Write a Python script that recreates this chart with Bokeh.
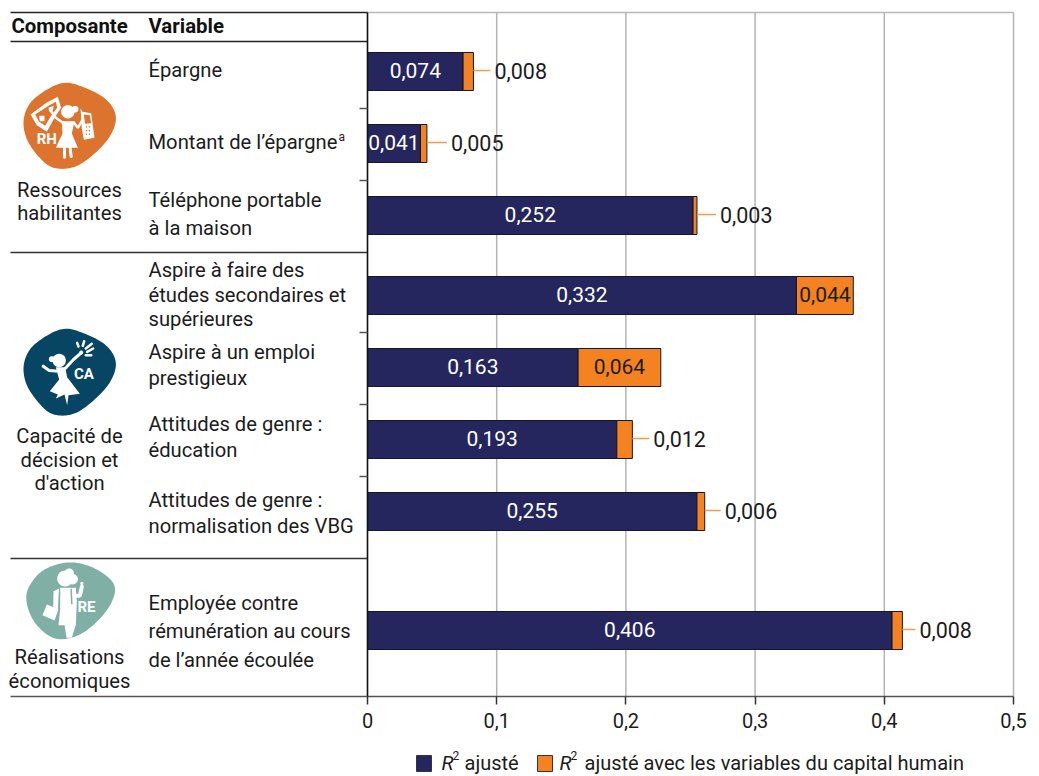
from bokeh.plotting import figure
from bokeh.models import LinearAxis, FixedTicker, Range1d, ColumnDataSource
from bokeh.core.properties import value
from bokeh.embed import file_html
from bokeh.resources import INLINE
import numpy as np

# ---- data ----
variables = ["Épargne", "Montant de l’épargne", "Téléphone portable à la maison",
             "Aspire à faire des études secondaires et supérieures", "Aspire à un emploi prestigieux",
             "Attitudes de genre : éducation", "Attitudes de genre : normalisation des VBG",
             "Employée contre rémunération au cours de l’année écoulée"]
r2_base = [0.074, 0.041, 0.252, 0.332, 0.163, 0.193, 0.255, 0.406]
r2_human = [0.008, 0.005, 0.003, 0.044, 0.064, 0.012, 0.006, 0.008]
x_ticks = [0, 0.1, 0.2, 0.3, 0.4, 0.5]
x_labels = ["0", "0,1", "0,2", "0,3", "0,4", "0,5"]
legend_labels = ["ajusté", "ajusté avec les variables du capital humain"]

# ---- layout (page pixels) ----
W, H = 1039, 776
X0, X1 = 367, 1013
bar_rows = [71, 143, 215, 295, 367, 439, 511, 630]
row_ticks = [108, 180, 332, 404, 476]
leader_px = [17, 20, 19, 0, 0, 17, 16, 13]
FONT_NAME = "Roboto"
FONT = value(FONT_NAME)
INK = "#1c1c1c"
NAVY, ORANGE = "#24265d", "#f58220"
BODY = 20.2
k = (X1 - X0) / 0.5
def dx(px):
    return (np.asarray(px, dtype=float) - X0) / k

p = figure(width=W, height=H, output_backend="svg", toolbar_location=None,
           x_range=Range1d(dx(0), dx(W)), y_range=Range1d(H, 0),
           x_axis_type=None, y_axis_type=None, min_border=0,
           outline_line_color=None, background_fill_color="white", border_fill_color="white")
p.grid.visible = False

def txt(x, y, s, size=BODY, color=INK, align="left", style="normal"):
    p.text([float(dx(x))], [y], text=[s], text_font=FONT, text_font_size=f"{size}px", text_color=color,
           text_align=align, text_baseline="middle", text_font_style=style)

def hline(x0, x1, y, color="#1a1a1a", w=1.5):
    p.segment([float(dx(x0))], [y], [float(dx(x1))], [y], line_color=color, line_width=w)

# grid
p.segment(x_ticks, [12] * 6, x_ticks, [696] * 6, line_color="#b4b4b4", line_width=1.5)
hline(X0, X1, 12, "#b8b8b8")

# table rules
hline(10, X0, 12, "#222222")
hline(10, X0, 41, "#222222")
hline(10, X0, 252, "#333333")
hline(10, X0, 558, "#333333")
hline(10, X0, 696, "#555555")

# bars
ends = [a + b for a, b in zip(r2_base, r2_human)]
src = ColumnDataSource(dict(y=bar_rows, base=r2_base, end=ends, zero=[0] * 8))
p.hbar(y="y", left="zero", right="base", height=38, source=src, fill_color=NAVY, line_color="#15152b", line_width=1)
p.hbar(y="y", left="base", right="end", height=38, source=src, fill_color=ORANGE, line_color="#15152b", line_width=1)

# axes
xa = LinearAxis(fixed_location=696, bounds=(0, 0.5), ticker=FixedTicker(ticks=x_ticks),
                major_label_overrides=dict(zip(x_ticks, x_labels)),
                major_tick_out=8, major_tick_in=0, minor_tick_out=0, minor_tick_in=0,
                major_tick_line_color="#333333", major_tick_line_width=1.5,
                axis_line_color="#555555", axis_line_width=1.5,
                major_label_standoff=8, major_label_text_font=FONT_NAME,
                major_label_text_font_size="20px", major_label_text_color=INK)
p.add_layout(xa, "below")
ya = LinearAxis(fixed_location=0, bounds=(12, 696), ticker=FixedTicker(ticks=row_ticks),
                major_tick_out=8, major_tick_in=0, minor_tick_out=0, minor_tick_in=0,
                major_tick_line_color="#555555", major_tick_line_width=1.5,
                axis_line_color="#111111", axis_line_width=1.5,
                major_label_text_color=None, major_label_text_font_size="0px")
p.add_layout(ya, "left")

# value labels
fmt = lambda v: f"{v:.3f}".replace(".", ",")
for y, a, b, e, lead in zip(bar_rows, r2_base, r2_human, ends, leader_px):
    p.text([a / 2], [y - 1], text=[fmt(a)], text_font=FONT, text_font_size="21px", text_color="white",
           text_align="center", text_baseline="middle")
    if b > 0.03:
        p.text([a + b / 2], [y - 1], text=[fmt(b)], text_font=FONT, text_font_size="21px", text_color=INK,
               text_align="center", text_baseline="middle")
    else:
        p.segment([e], [y - 1], [e + lead / k], [y - 1], line_color="#f79a4e", line_width=1.5)
        p.text([e + (lead + 4) / k], [y - 1], text=[fmt(b)], text_font=FONT, text_font_size="21.5px", text_color=INK,
               text_align="left", text_baseline="middle")

# table text
txt(11, 25, "Composante", 20.4, "#111111", style="bold")
txt(148, 25, "Variable", 20.4, "#111111", style="bold")
var_lines = [(69, "Épargne"), (141, "Montant de l’épargne"), (199, "Téléphone portable"), (227, "à la maison"),
             (269, "Aspire à faire des"), (294, "études secondaires et"), (318, "supérieures"),
             (351, "Aspire à un emploi"), (377, "prestigieux"), (423, "Attitudes de genre :"), (449, "éducation"),
             (499, "Attitudes de genre :"), (525, "normalisation des VBG"),
             (602, "Employée contre"), (630, "rémunération au cours"), (659, "de l’année écoulée")]
for y, s in var_lines:
    txt(148, y, s)
txt(338, 136, "a", 12)
comp_lines = [(189, "Ressources"), (212, "habilitantes"), (435, "Capacité de"), (459, "décision et"),
              (482, "d'action"), (656, "Réalisations"), (680, "économiques")]
for y, s in comp_lines:
    txt(69, y, s, align="center")

# icons: drawn in crop pixels (3x) relative to an origin
def smooth(pts, n=14):
    P = np.array(pts, float)
    out = []
    m = len(P)
    for i in range(m):
        a, b, c, d = P[(i - 1) % m], P[i], P[(i + 1) % m], P[(i + 2) % m]
        for t in np.linspace(0, 1, n, endpoint=False):
            out.append(0.5 * (2 * b + (c - a) * t + (2 * a - 5 * b + 4 * c - d) * t ** 2 + (3 * b - a - 3 * c + d) * t ** 3))
    return np.array(out)

def shape(pts, ox, oy, color, smoothed=False):
    Q = smooth(pts) if smoothed else np.array(pts, float)
    p.patch(dx(ox + Q[:, 0] / 3).tolist(), (oy + Q[:, 1] / 3).tolist(), fill_color=color, line_color=None)

def stroke(pts, ox, oy, color="white", w=2.5):
    Q = np.array(pts, float)
    p.line(dx(ox + Q[:, 0] / 3).tolist(), (oy + Q[:, 1] / 3).tolist(), line_color=color, line_width=w, line_cap="round")

def circle(cx, cy, r, ox, oy, color="white"):
    a = np.linspace(0, 2 * np.pi, 28, endpoint=False)
    shape(list(zip(cx + r * np.cos(a), cy + r * np.sin(a))), ox, oy, color)

# RH
ox, oy, c = 18, 78, "#dc7430"
shape([(130, 14), (200, 28), (265, 65), (292, 115), (275, 172), (225, 228), (165, 266), (100, 266), (50, 222),
       (20, 168), (18, 110), (50, 58)], ox, oy, c, True)
shape([(36, 108), (85, 72), (118, 55), (128, 88), (108, 118), (85, 160), (55, 140)], ox, oy, "white")
shape([(50, 108), (90, 82), (112, 70), (116, 88), (98, 112), (80, 142), (62, 130)], ox, oy, c)
shape([(62, 112), (78, 112), (78, 128), (64, 128)], ox, oy, "white")
shape([(90, 88), (106, 82), (102, 98), (92, 100)], ox, oy, "white")
circle(148, 100, 20, ox, oy)
circle(170, 92, 10, ox, oy)
shape([(130, 128), (168, 128), (160, 165), (178, 208), (112, 208), (132, 165)], ox, oy, "white")
stroke([(132, 132), (112, 118), (98, 98)], ox, oy)
stroke([(166, 132), (178, 148), (190, 128)], ox, oy)
stroke([(138, 208), (138, 236)], ox, oy, w=3)
stroke([(155, 208), (158, 234)], ox, oy, w=3)
shape([(186, 90), (192, 100), (218, 104), (228, 178), (196, 184), (190, 150)], ox, oy, "white")
shape([(196, 108), (214, 110), (218, 134), (200, 136)], ox, oy, c)
for yy in (145, 156, 167):
    for xx in (204, 213):
        circle(xx, yy, 2.2, ox, oy, c)
txt(18 + 85 / 3, 78 + 180 / 3, "RH", 15, "white", "center", "bold")

# CA
ox, oy, c = 18, 324, "#064664"
shape([(130, 14), (200, 28), (265, 65), (292, 115), (275, 172), (225, 228), (165, 268), (100, 268), (50, 222),
       (20, 168), (18, 110), (50, 58)], ox, oy, c, True)
circle(122, 108, 20, ox, oy)
circle(100, 104, 9, ox, oy)
shape([(112, 128), (140, 128), (146, 158), (184, 208), (150, 212), (146, 242), (138, 210), (112, 222), (118, 210),
       (94, 200), (122, 165)], ox, oy, "white")
stroke([(140, 132), (165, 105), (188, 85)], ox, oy, w=3)
stroke([(120, 140), (92, 138), (74, 125)], ox, oy, w=3)
circle(188, 84, 6, ox, oy)
stroke([(180, 66), (176, 55)], ox, oy)
stroke([(193, 64), (197, 50)], ox, oy)
stroke([(202, 72), (220, 58)], ox, oy)
stroke([(206, 82), (224, 72)], ox, oy)
stroke([(202, 92), (218, 92)], ox, oy)
txt(18 + 196 / 3, 324 + 148 / 3, "CA", 15, "white", "center", "bold")

# RE
ox, oy, c = 18, 558, "#7fafa5"
shape([(150, 12), (225, 28), (285, 75), (280, 130), (235, 190), (175, 232), (110, 240), (55, 200), (26, 140),
       (30, 88), (75, 35)], ox, oy, c, True)
circle(140, 60, 24, ox, oy)
circle(162, 62, 16, ox, oy)
circle(152, 44, 14, ox, oy)
shape([(125, 88), (172, 88), (175, 130), (172, 200), (120, 200), (125, 150)], ox, oy, "white")
stroke([(170, 112), (184, 112), (190, 85)], ox, oy, w=4)
circle(190, 75, 5, ox, oy)
shape([(138, 198), (172, 198), (160, 238), (144, 238)], ox, oy, "white")
shape([(105, 98), (122, 90), (120, 150), (104, 158)], ox, oy, "white")
stroke([(123, 100), (121, 155)], ox, oy, c, 1.5)
stroke([(158, 92), (160, 136)], ox, oy, c, 1.5)
shape([(85, 138), (120, 152), (108, 186), (72, 170)], ox, oy, "white")
txt(18 + 204 / 3, 558 + 146 / 3, "RE", 15, "white", "center", "bold")

# legend
def swatch(x0, color):
    p.quad(left=[float(dx(x0))], right=[float(dx(x0 + 15))], top=[755], bottom=[771], fill_color=color, line_color="#333344", line_width=1)
swatch(416, NAVY)
swatch(537, ORANGE)
txt(441, 762, "R", 20, style="italic")
txt(452, 755, "2", 12)
txt(464, 762, legend_labels[0], 20)
txt(559, 762, "R", 20, style="italic")
txt(570, 755, "2", 12)
txt(584, 762, legend_labels[1], 20)

open("out.html", "w").write(file_html(p, INLINE))
